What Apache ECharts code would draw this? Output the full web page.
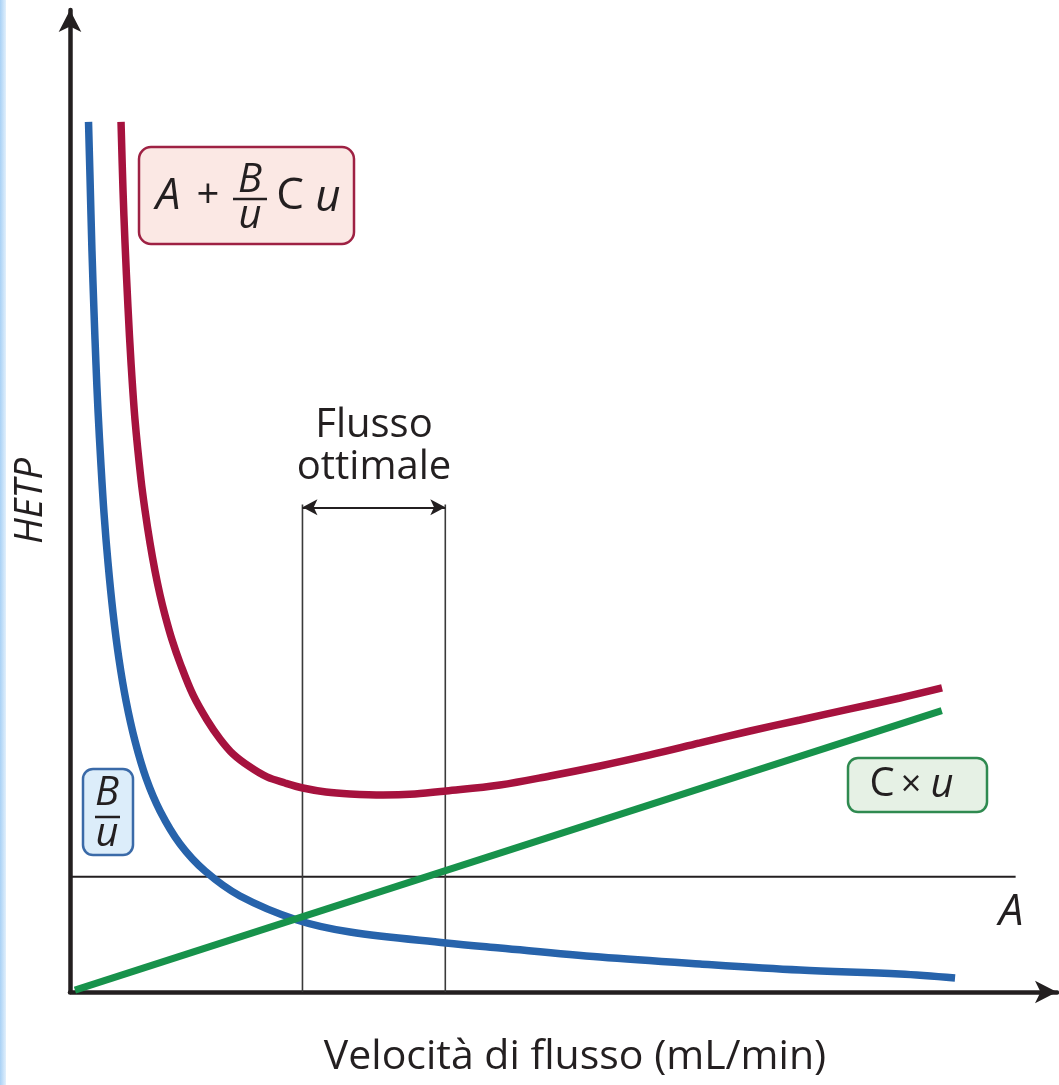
<!DOCTYPE html>
<html>
<head>
<meta charset="utf-8">
<script src="https://cdn.jsdelivr.net/npm/echarts@6/dist/echarts.min.js"></script>
<style>
html,body{margin:0;padding:0;background:#fff;}
#chart{width:1059px;height:1085px;}
</style>
</head>
<body>
<div id="chart"></div>
<script>
// ---- data (arbitrary units; axes have no ticks) ----
const blueX = [1.88,2.03,2.23,2.44,2.64,2.84,3.15,3.45,3.86,4.37,4.97,5.69,6.60,7.72,9.14,11.17,13.71,17.26,23.05,28.43,38.17,43.65,53.81,63.96,74.11,84.26,89.85];
const blueY = [89.05,83.42,75.84,69.50,64.18,59.57,53.84,49.03,43.91,38.79,34.08,29.79,25.69,21.90,18.53,15.15,12.38,9.83,7.37,6.14,5.02,4.50,3.58,2.87,2.25,1.84,1.43];
const redX = [5.18,5.38,5.58,5.89,6.19,6.60,7.21,7.61,8.12,8.63,9.14,9.64,10.36,11.17,12.49,13.91,15.23,16.55,18.27,20.00,21.83,23.65,25.99,28.43,31.78,35.03,38.17,43.65,48.73,53.81,58.88,63.96,69.04,74.11,79.19,84.26,88.53];
const redY = [89.05,82.09,76.77,70.01,64.48,58.55,52.41,49.33,45.96,43.09,40.63,38.59,36.03,33.67,30.40,27.84,25.90,24.36,23.03,22.01,21.39,20.88,20.47,20.27,20.16,20.27,20.57,21.19,22.11,23.13,24.26,25.49,26.71,27.84,28.97,30.09,31.12];
const greenX = [0.5, 88.5];
const greenY = [0.2, 28.8];
const aLevel = 11.8;
const aLineEnd = 96;
const optimalRange = [23.6, 38.1];
const optimalTop = 49.9;
const arrowLevel = 49.6;
const axisMax = {x: 100.2, y: 100.5};

const xTitle = 'Velocità di flusso (mL/min)';
const yTitle = 'HETP';
const optimalText = ['Flusso', 'ottimale'];
const aLabel = 'A';

const zip = (xs, ys) => xs.map((x, i) => [x, ys[i]]);
const FONT = '"Open Sans", "Noto Sans", sans-serif';
const INK = '#231f20';

const chart = echarts.init(document.getElementById('chart'), null, {renderer: 'canvas'});

const axisCommon = {
  type: 'value', min: 0,
  axisTick: {show: false}, axisLabel: {show: false}, splitLine: {show: false},
  axisLine: {show: true, symbol: ['none', 'arrow'], symbolSize: [17, 22],
    lineStyle: {color: INK, width: 4.5}}
};

function txt(x, y, text, size, italic, align, extra) {
  return Object.assign({
    type: 'text', x: x, y: y, z: 50,
    style: {text: text, font: (italic ? 'italic ' : '') + size + 'px ' + FONT,
      fill: INK, align: align || 'center', verticalAlign: 'middle'}
  }, extra || {});
}
function hline(x1, x2, y, w) {
  return {type: 'line', z: 50, shape: {x1: x1, y1: y, x2: x2, y2: y}, style: {stroke: INK, lineWidth: w || 2.5}};
}

const option = {
  animation: false,
  backgroundColor: '#ffffff',
  grid: {left: 70, right: 2, top: 10, bottom: 93},
  xAxis: Object.assign({}, axisCommon, {max: axisMax.x}),
  yAxis: Object.assign({}, axisCommon, {max: axisMax.y}),
  series: [
    {type: 'line', name: 'A', data: [[0, aLevel], [aLineEnd, aLevel]], symbol: 'none',
      lineStyle: {color: INK, width: 2}, z: 2, silent: true},
    {type: 'line', name: 'opt1', data: [[optimalRange[0], 0], [optimalRange[0], optimalTop]], symbol: 'none',
      lineStyle: {color: '#3a3a3a', width: 1.6}, z: 2, silent: true},
    {type: 'line', name: 'opt2', data: [[optimalRange[1], 0], [optimalRange[1], optimalTop]], symbol: 'none',
      lineStyle: {color: '#3a3a3a', width: 1.6}, z: 2, silent: true,
      markLine: {silent: true, symbol: ['arrow', 'arrow'], symbolSize: [12, 15],
        label: {show: false},
        lineStyle: {color: INK, width: 2, type: 'solid'},
        data: [[{coord: [optimalRange[0], arrowLevel]}, {coord: [optimalRange[1], arrowLevel]}]]}},
    {type: 'line', name: 'B/u', data: zip(blueX, blueY), symbol: 'none', smooth: 0.35,
      lineStyle: {color: '#2763ab', width: 7.5, cap: 'butt'}, z: 3},
    {type: 'line', name: 'HETP', data: zip(redX, redY), symbol: 'none', smooth: 0.35,
      lineStyle: {color: '#a6123e', width: 7.5, cap: 'butt'}, z: 3},
    {type: 'line', name: 'C×u', data: zip(greenX, greenY), symbol: 'none',
      lineStyle: {color: '#17924b', width: 7, cap: 'butt'}, z: 4}
  ],
  graphic: [
    {type: 'rect', z: 0, shape: {x: 0, y: 0, width: 6, height: 1085},
      style: {fill: new echarts.graphic.LinearGradient(0, 0, 1, 0, [{offset: 0, color: '#a9d1f5'}, {offset: 1, color: '#e2f0fc'}])}},
    // red formula box
    {type: 'rect', z: 40, shape: {x: 139, y: 147, width: 215, height: 97, r: 12},
      style: {fill: '#fbe8e4', stroke: '#9e2143', lineWidth: 2.5}},
    txt(168, 196, 'A', 44, true),
    txt(208, 197, '+', 40, false),
    txt(250, 181, 'B', 40, true),
    hline(233, 267, 199, 2.5),
    txt(250, 217, 'u', 40, true),
    txt(290, 196, 'C', 44, false),
    txt(328, 198, 'u', 44, true),
    // blue box
    {type: 'rect', z: 40, shape: {x: 83, y: 769, width: 50, height: 86, r: 10},
      style: {fill: '#dcedfa', stroke: '#3a6aa8', lineWidth: 2.5}},
    txt(107, 794, 'B', 40, true),
    hline(95, 120, 817, 2.5),
    txt(107, 835, 'u', 40, true),
    // green box
    {type: 'rect', z: 40, shape: {x: 848, y: 758, width: 139, height: 54, r: 10},
      style: {fill: '#e6f1e5', stroke: '#2f8a50', lineWidth: 2.5}},
    txt(882, 785, 'C', 40, false),
    txt(911, 786, '×', 36, false),
    txt(942, 786, 'u', 40, true),
    // other labels
    txt(374, 426, optimalText[0], 40, false),
    txt(374, 468, optimalText[1], 40, false),
    txt(1011, 912, aLabel, 44, true),
    txt(31, 501, yTitle, 38, true, 'center', {rotation: Math.PI / 2}),
    txt(575, 1057, xTitle, 41, false)
  ]
};
chart.setOption(option);
</script>
</body>
</html>
